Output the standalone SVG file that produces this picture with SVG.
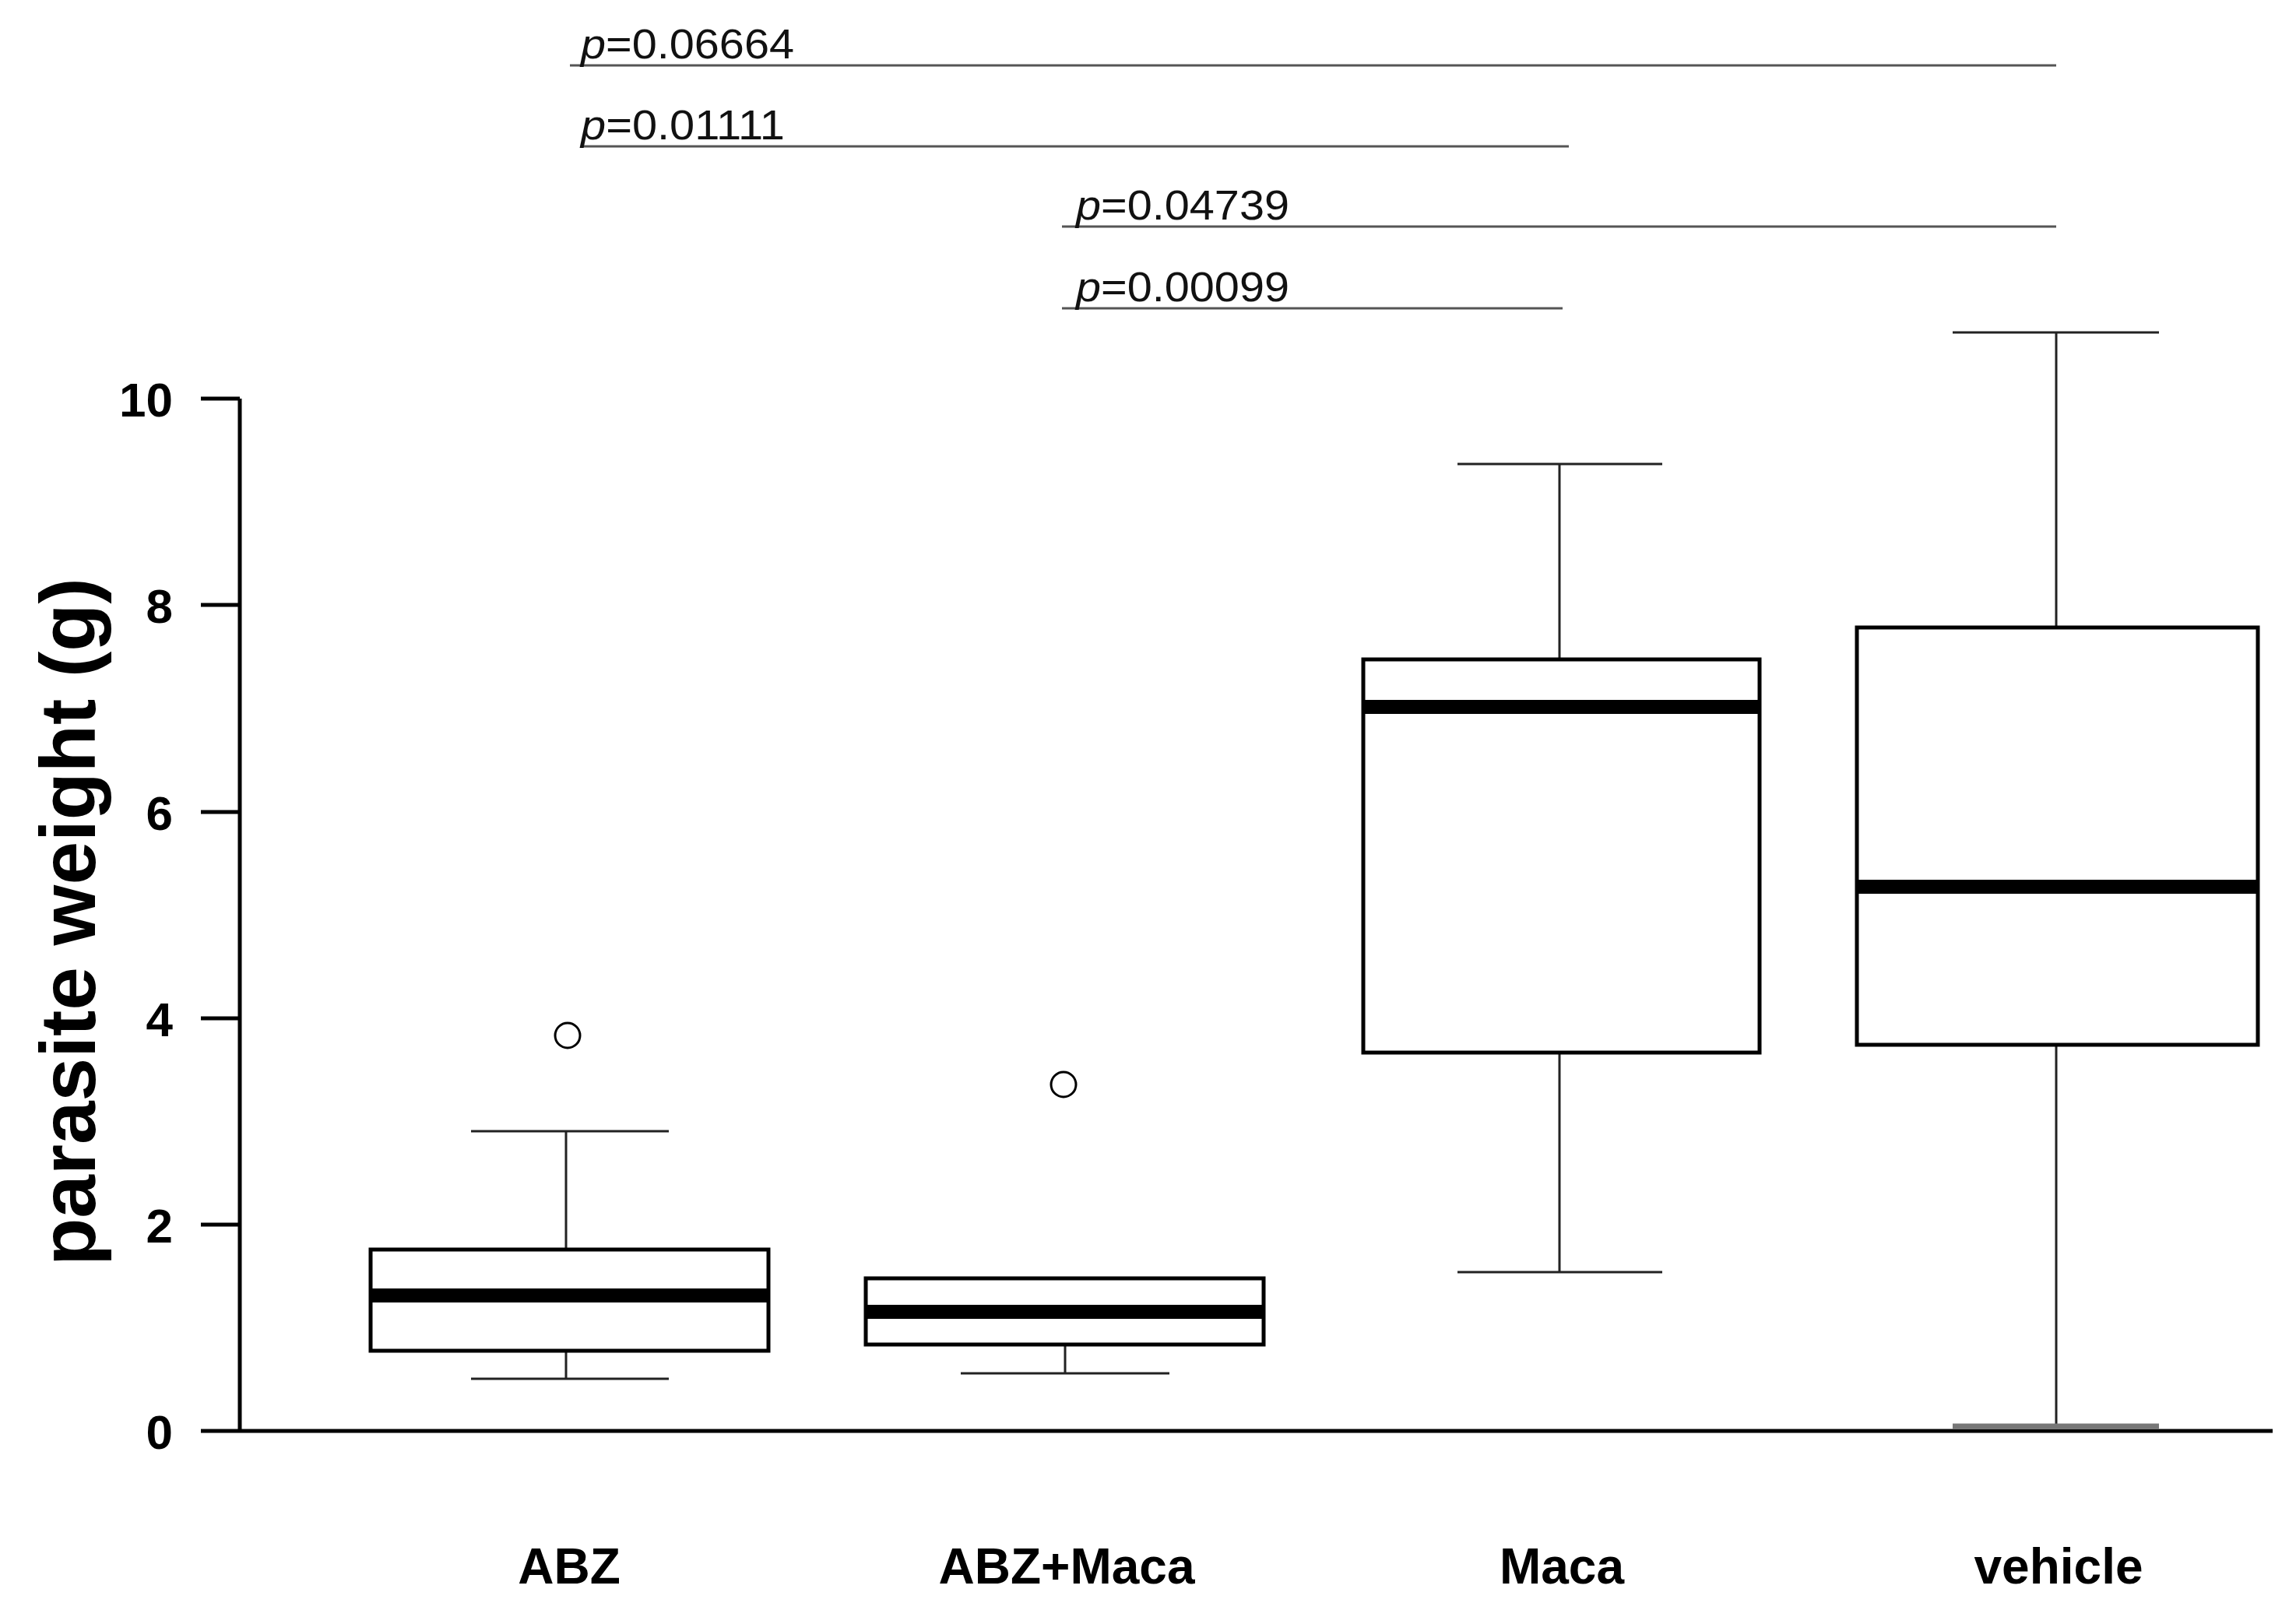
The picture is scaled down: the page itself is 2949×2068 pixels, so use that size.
<svg xmlns="http://www.w3.org/2000/svg" width="2949" height="2068" viewBox="0 0 2949 2068">
<style>
.box{fill:#fff;stroke:#000;stroke-width:5}
.med{stroke:#000;stroke-width:18}
.wh{stroke:#222;stroke-width:3;fill:none}
.sig{stroke:#555;stroke-width:3}
.pt{font-family:"Liberation Sans",Arial,sans-serif;font-size:54px;fill:#111}
.tk{font-family:"Liberation Sans",Arial,sans-serif;font-size:62px;font-weight:bold;text-anchor:end}
.xl{font-family:"Liberation Sans",Arial,sans-serif;font-size:64px;font-weight:bold;text-anchor:middle}
.ax{stroke:#000;stroke-width:5;fill:none}
</style>
<rect width="2949" height="2068" fill="#fff"/>
<g id="axes">
<path class="ax" d="M308 512V1838M258 1838H2919M258 512H308M258 777H308M258 1043H308M258 1308H308M258 1573H308"/>
<text class="tk" x="222" y="535">10</text>
<text class="tk" x="222" y="800">8</text>
<text class="tk" x="222" y="1066">6</text>
<text class="tk" x="222" y="1331">4</text>
<text class="tk" x="222" y="1596">2</text>
<text class="tk" x="222" y="1861">0</text>
<text transform="translate(122 1184) rotate(-90)" font-family="Liberation Sans,Arial,sans-serif" font-size="100" font-weight="bold" text-anchor="middle">parasite weight (g)</text>
</g>
<g id="ABZ">
<path class="wh" d="M727 1453V1605M605 1453H859M727 1735V1771M605 1771H859"/>
<rect class="box" x="476" y="1605" width="511" height="130"/>
<line class="med" x1="476" y1="1664" x2="987" y2="1664"/>
<circle cx="729" cy="1330" r="16" fill="none" stroke="#000" stroke-width="3"/>
<text class="xl" x="731" y="2034">ABZ</text>
</g>
<g id="ABZMaca">
<path class="wh" d="M1368 1727V1764M1234 1764H1502"/>
<rect class="box" x="1112" y="1642" width="511" height="85"/>
<line class="med" x1="1112" y1="1685" x2="1623" y2="1685"/>
<circle cx="1366" cy="1393" r="16" fill="none" stroke="#000" stroke-width="3"/>
<text class="xl" x="1370" y="2034">ABZ+Maca</text>
</g>
<g id="Maca">
<path class="wh" d="M2003 596V847M1872 596H2135M2003 1352V1634M1872 1634H2135"/>
<rect class="box" x="1751" y="847" width="509" height="505"/>
<line class="med" x1="1751" y1="908" x2="2260" y2="908"/>
<text class="xl" x="2006" y="2034">Maca</text>
</g>
<g id="vehicle">
<path class="wh" d="M2641 427V806M2508 427H2773M2641 1342V1831"/>
<line x1="2508" y1="1832" x2="2773" y2="1832" stroke="#777" stroke-width="7"/>
<rect class="box" x="2385" y="806" width="515" height="536"/>
<line class="med" x1="2385" y1="1139" x2="2900" y2="1139"/>
<text class="xl" x="2644" y="2034">vehicle</text>
</g>
<g id="connectors">
<line class="sig" x1="732" y1="84" x2="2641" y2="84"/>
<line class="sig" x1="746" y1="188" x2="2015" y2="188"/>
<line class="sig" x1="1364" y1="291" x2="2641" y2="291"/>
<line class="sig" x1="1364" y1="396" x2="2007" y2="396"/>
<text class="pt" x="746" y="75" textLength="274" lengthAdjust="spacingAndGlyphs"><tspan font-style="italic">p</tspan>=0.06664</text>
<text class="pt" x="746" y="179" textLength="262" lengthAdjust="spacingAndGlyphs"><tspan font-style="italic">p</tspan>=0.01111</text>
<text class="pt" x="1382" y="282" textLength="274" lengthAdjust="spacingAndGlyphs"><tspan font-style="italic">p</tspan>=0.04739</text>
<text class="pt" x="1382" y="387" textLength="274" lengthAdjust="spacingAndGlyphs"><tspan font-style="italic">p</tspan>=0.00099</text>
</g>
</svg>
